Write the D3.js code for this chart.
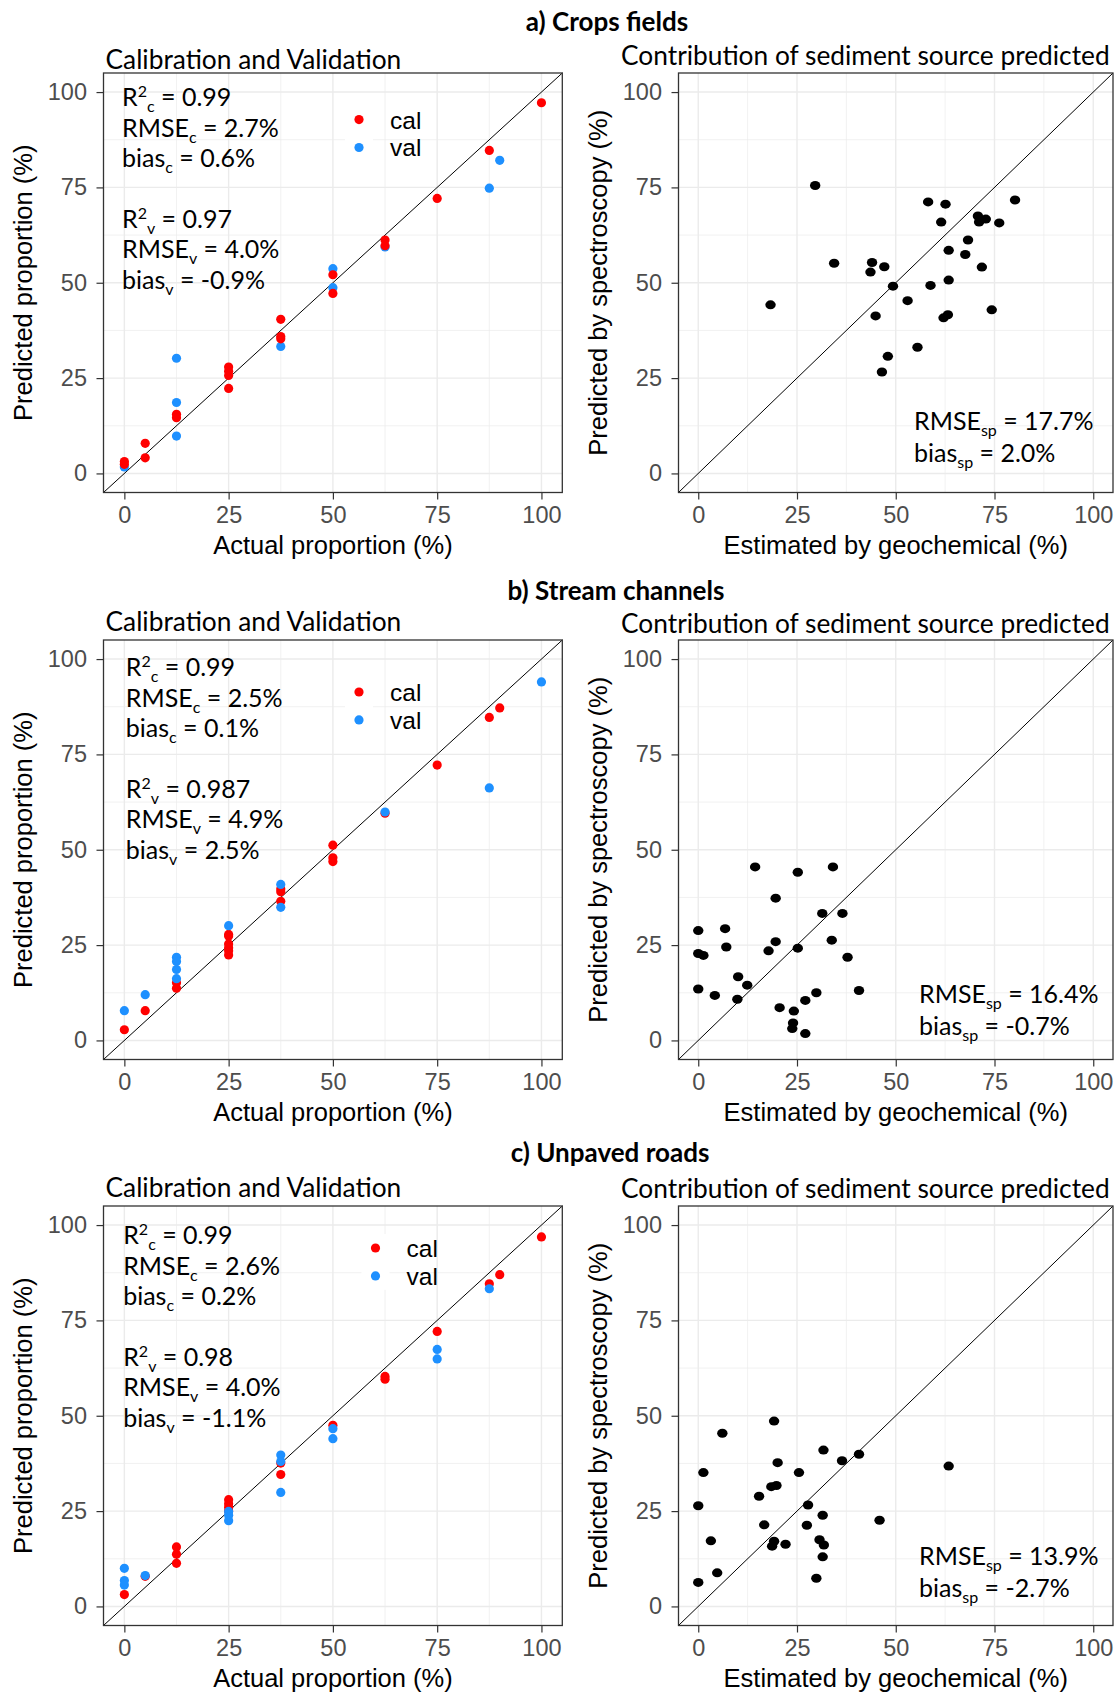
<!DOCTYPE html>
<html lang="en">
<head>
<meta charset="UTF-8">
<title>Sediment source predictions</title>
<style>
  body { margin: 0; background: #fff; }
  svg { display: block; background: #fff; }
  .grid-major { stroke: #ebebeb; stroke-width: 1.4; }
  .grid-minor { stroke: #ebebeb; stroke-width: 0.7; }
  .frame { fill: none; stroke: #333; stroke-width: 1.3; }
  .oneone { stroke: #000; stroke-width: 1; }
  .axis path { display: none; }
  .axis line { stroke: #333; stroke-width: 1.2; }
  .axis text { font-family: "Liberation Sans", Arial, sans-serif; font-size: 23.5px; fill: #4d4d4d; }
  .axis-title { font-family: "Liberation Sans", Arial, sans-serif; font-size: 25.5px; fill: #000; }
  .legend-text { font-family: "Liberation Sans", Arial, sans-serif; font-size: 24.5px; fill: #000; }
  .section { font-family: Lato, "Open Sans", sans-serif; font-weight: bold; font-size: 26px; fill: #000; }
  .subtitle { font-family: Lato, "Open Sans", sans-serif; font-size: 26.3px; fill: #000; }
  .stat { font-family: Lato, "Open Sans", sans-serif; font-size: 25px; fill: #000; }
</style>
</head>
<body>
<svg width="1120" height="1692"></svg>
<script src="https://d3js.org/d3.v7.min.js"></script>
<script>
// ---- data ----
const ticks = [0, 25, 50, 75, 100];
const minorTicks = [12.5, 37.5, 62.5, 87.5];
const sections = ["a) Crops fields", "b) Stream channels", "c) Unpaved roads"];
const leftTitle = "Calibration and Validation";
const rightTitle = "Contribution of sediment source predicted";
const legendLabels = ["cal", "val"];
const xLabels = ["Actual proportion (%)", "Estimated by geochemical (%)"];
const yLabels = ["Predicted proportion (%)", "Predicted by spectroscopy (%)"];

// [actual, predicted]
const cropsCal = [[100,97.2],[87.5,84.7],[75,72.1],[62.5,61.2],[62.5,59.7],[50,52.1],[50,47.2],[37.5,40.4],[37.5,35.9],[37.5,35.3],[25,27.9],[25,26.8],[25,25.7],[25,22.3],[12.5,15.5],[12.5,14.6],[5,7.9],[5,4.1],[0,3.1],[0,2.4]];
const cropsVal = [[90,82.1],[87.5,74.8],[62.5,59.4],[50,53.7],[50,48.7],[37.5,33.3],[12.5,30.2],[12.5,18.6],[12.5,9.8],[0,1.7]];
const streamCal = [[90,87.2],[87.5,84.7],[75,72.2],[62.5,59.6],[50,51.2],[50,47.9],[50,46.9],[37.5,39.7],[37.5,39.0],[37.5,36.5],[25,27.8],[25,27.4],[25,25.3],[25,24.3],[25,23.5],[25,22.4],[12.5,15.1],[12.5,13.7],[5,7.8],[0,2.8]];
const streamVal = [[100,94.0],[87.5,66.2],[62.5,59.9],[37.5,40.9],[37.5,34.9],[25,30.1],[12.5,21.8],[12.5,20.7],[12.5,18.6],[12.5,16.2],[5,12.0],[0,7.8]];
const roadsCal = [[100,96.9],[90,87.0],[87.5,84.6],[75,72.1],[62.5,60.3],[62.5,59.6],[50,47.5],[37.5,37.6],[37.5,34.6],[25,28.0],[25,26.9],[25,26.0],[25,25.0],[12.5,15.6],[12.5,13.7],[12.5,11.3],[5,7.9],[0,3.1]];
const roadsVal = [[87.5,83.3],[75,67.4],[75,64.9],[50,46.6],[50,44.0],[37.5,39.7],[37.5,38.0],[37.5,29.9],[25,24.9],[25,23.9],[25,22.5],[5,8.1],[0,10.0],[0,6.8],[0,5.6]];

// [geochemical, spectroscopy]
const cropsSrc = [[18.3,44.2],[29.6,75.5],[34.4,55.1],[44.0,55.3],[43.6,52.8],[47.1,54.2],[49.3,49.1],[44.9,41.3],[53.0,45.3],[55.5,33.1],[48.0,30.7],[46.5,26.6],[58.2,71.2],[62.6,70.6],[61.5,65.9],[58.8,49.3],[63.4,58.5],[63.4,50.7],[62.1,40.8],[63.2,41.6],[67.6,57.4],[68.3,61.2],[70.8,67.5],[71.1,65.9],[72.8,66.7],[71.8,54.1],[76.2,65.7],[80.2,71.7],[74.3,42.9]];
const streamSrc = [[0,28.8],[0,22.8],[1.3,22.3],[0,13.5],[4.2,11.8],[6.8,29.3],[7.1,24.5],[10.1,16.7],[9.9,10.8],[12.4,14.5],[14.4,45.5],[17.8,23.5],[19.6,37.3],[19.6,25.9],[20.6,8.6],[24.2,7.7],[24.0,4.6],[23.8,3.1],[27.1,1.8],[25.2,44.1],[25.2,24.2],[27.1,10.5],[29.9,12.5],[31.4,33.3],[34.1,45.5],[33.8,26.3],[36.5,33.3],[37.8,21.8],[40.7,13.1]];
const roadsSrc = [[0,6.3],[0,26.4],[1.3,35.1],[3.2,17.2],[4.8,8.8],[6.1,45.4],[15.4,28.9],[16.7,21.4],[18.5,31.4],[19.8,31.7],[19.2,48.6],[20.1,37.7],[19.2,17.1],[18.7,15.8],[22.1,16.3],[25.5,35.1],[27.8,26.6],[27.5,21.3],[29.9,7.4],[30.7,17.5],[31.8,16.1],[31.5,23.9],[31.5,13.0],[31.7,41.0],[36.4,38.2],[40.7,39.9],[45.9,22.6],[63.4,36.8]];

const calStats = [["0.99", "2.7%", "0.6%"], ["0.99", "2.5%", "0.1%"], ["0.99", "2.6%", "0.2%"]];
const valStats = [["0.97", "4.0%", "-0.9%"], ["0.987", "4.9%", "2.5%"], ["0.98", "4.0%", "-1.1%"]];
const spStats = [["17.7%", "2.0%"], ["16.4%", "-0.7%"], ["13.9%", "-2.7%"]];

// ---- layout ----
const rowTop = [0, 567, 1133];
const plotTop = 73, plotBottom = 492.5;
const leftX = [103.5, 562.3], rightX = [678.5, 1113];
const rows = [
  { title: [607, 31], subL: 68.6, subR: 65, legend: [359, 119.6], stats: [122, 106.4], sp: [914, 429.6], valOnTop: false },
  { title: [616, 33], subL: 63.9, subR: 65.5, legend: [359, 125], stats: [125.8, 109.2], sp: [919, 435.6], valOnTop: true },
  { title: [610, 29], subL: 64.2, subR: 64.7, legend: [375.5, 115], stats: [123.2, 111.4], sp: [919, 431.8], valOnTop: true }
];
const calData = [cropsCal, streamCal, roadsCal];
const valData = [cropsVal, streamVal, roadsVal];
const srcData = [cropsSrc, streamSrc, roadsSrc];
const colCal = "#ff0000", colVal = "#1e90ff";

const svg = d3.select("svg");

function richText(g, x, y, parts, cls) {
  const t = g.append("text").attr("class", cls).attr("x", x).attr("y", y);
  let shift = 0;
  parts.forEach(p => {
    const target = p.sup ? -9 : p.sub ? 6 : 0;
    const ts = t.append("tspan").attr("dy", target - shift).text(p.t);
    if (p.sup || p.sub) ts.style("font-size", "16px");
    shift = target;
  });
}

function panel(g, xr, top, bottom, xLab, yLab, yLabX) {
  const x = d3.scaleLinear().domain([-5, 105]).range(xr);
  const y = d3.scaleLinear().domain([-5, 105]).range([bottom, top]);

  g.selectAll(".gmx").data(minorTicks).enter().append("line").attr("class", "grid-minor")
    .attr("x1", d => x(d)).attr("x2", d => x(d)).attr("y1", top).attr("y2", bottom);
  g.selectAll(".gmy").data(minorTicks).enter().append("line").attr("class", "grid-minor")
    .attr("y1", d => y(d)).attr("y2", d => y(d)).attr("x1", xr[0]).attr("x2", xr[1]);
  g.selectAll(".gx").data(ticks).enter().append("line").attr("class", "grid-major")
    .attr("x1", d => x(d)).attr("x2", d => x(d)).attr("y1", top).attr("y2", bottom);
  g.selectAll(".gy").data(ticks).enter().append("line").attr("class", "grid-major")
    .attr("y1", d => y(d)).attr("y2", d => y(d)).attr("x1", xr[0]).attr("x2", xr[1]);

  // 1:1 line
  g.append("line").attr("class", "oneone")
    .attr("x1", x(-5)).attr("y1", y(-5)).attr("x2", x(105)).attr("y2", y(105));

  g.append("g").attr("class", "axis").attr("transform", `translate(${xr[0]},0)`)
    .call(d3.axisLeft(y).tickValues(ticks).tickSize(7).tickPadding(9.5));
  g.append("g").attr("class", "axis").attr("transform", `translate(0,${bottom})`)
    .call(d3.axisBottom(x).tickValues(ticks).tickSize(7).tickPadding(7));

  g.append("text").attr("class", "axis-title").attr("text-anchor", "middle")
    .attr("x", (xr[0] + xr[1]) / 2).attr("y", bottom + 61).text(xLab);
  g.append("text").attr("class", "axis-title").attr("text-anchor", "middle")
    .attr("transform", `translate(${yLabX},${(top + bottom) / 2}) rotate(-90)`).text(yLab);

  return { x, y };
}

rows.forEach((r, i) => {
  const g = svg.append("g").attr("transform", `translate(0,${rowTop[i]})`);

  g.append("text").attr("class", "section").attr("text-anchor", "middle")
    .attr("x", r.title[0]).attr("y", r.title[1]).text(sections[i]);

  // left: calibration / validation
  const gl = g.append("g");
  const L = panel(gl, leftX, plotTop, plotBottom, xLabels[0], yLabels[0], 31.5);
  gl.append("text").attr("class", "subtitle").attr("x", 105.5).attr("y", r.subL).text(leftTitle);

  const layers = r.valOnTop
    ? [[calData[i], colCal], [valData[i], colVal]]
    : [[valData[i], colVal], [calData[i], colCal]];
  layers.forEach(([data, col]) => {
    gl.append("g").selectAll("circle").data(data).enter().append("circle")
      .attr("cx", d => L.x(d[0])).attr("cy", d => L.y(d[1])).attr("r", 4.6).attr("fill", col);
  });
  gl.append("rect").attr("class", "frame")
    .attr("x", leftX[0]).attr("y", plotTop).attr("width", leftX[1] - leftX[0]).attr("height", plotBottom - plotTop);

  // stats text
  const sx = r.stats[0], sy = r.stats[1], lh = 30.4;
  const lines = [
    [{ t: "R" }, { t: "2", sup: true }, { t: "c", sub: true }, { t: " = " + calStats[i][0] }],
    [{ t: "RMSE" }, { t: "c", sub: true }, { t: " = " + calStats[i][1] }],
    [{ t: "bias" }, { t: "c", sub: true }, { t: " = " + calStats[i][2] }],
    null,
    [{ t: "R" }, { t: "2", sup: true }, { t: "v", sub: true }, { t: " = " + valStats[i][0] }],
    [{ t: "RMSE" }, { t: "v", sub: true }, { t: " = " + valStats[i][1] }],
    [{ t: "bias" }, { t: "v", sub: true }, { t: " = " + valStats[i][2] }]
  ];
  lines.forEach((ln, k) => { if (ln) richText(gl, sx, sy + k * lh, ln, "stat"); });

  // legend
  const leg = gl.append("g").attr("transform", `translate(${r.legend[0]},${r.legend[1]})`);
  [colCal, colVal].forEach((c, k) => {
    leg.append("rect").attr("x", -14).attr("y", k * 27.9 - 14).attr("width", 28).attr("height", 27.9).attr("fill", "#fff");
    leg.append("circle").attr("cx", 0).attr("cy", k * 27.9).attr("r", 4.6).attr("fill", c);
    leg.append("text").attr("class", "legend-text").attr("x", 31).attr("y", k * 27.9 + 9).text(legendLabels[k]);
  });

  // right: geochemical vs spectroscopy
  const gr = g.append("g");
  const R = panel(gr, rightX, plotTop, plotBottom, xLabels[1], yLabels[1], 606.5);
  gr.append("text").attr("class", "subtitle").attr("x", 621).attr("y", r.subR).text(rightTitle);
  gr.append("g").selectAll("ellipse").data(srcData[i]).enter().append("ellipse")
    .attr("cx", d => R.x(d[0])).attr("cy", d => R.y(d[1])).attr("rx", 5.2).attr("ry", 4.5).attr("fill", "#000");
  gr.append("rect").attr("class", "frame")
    .attr("x", rightX[0]).attr("y", plotTop).attr("width", rightX[1] - rightX[0]).attr("height", plotBottom - plotTop);

  richText(gr, r.sp[0], r.sp[1], [{ t: "RMSE" }, { t: "sp", sub: true }, { t: " = " + spStats[i][0] }], "stat");
  richText(gr, r.sp[0], r.sp[1] + 32, [{ t: "bias" }, { t: "sp", sub: true }, { t: " = " + spStats[i][1] }], "stat");
});
</script>
</body>
</html>
